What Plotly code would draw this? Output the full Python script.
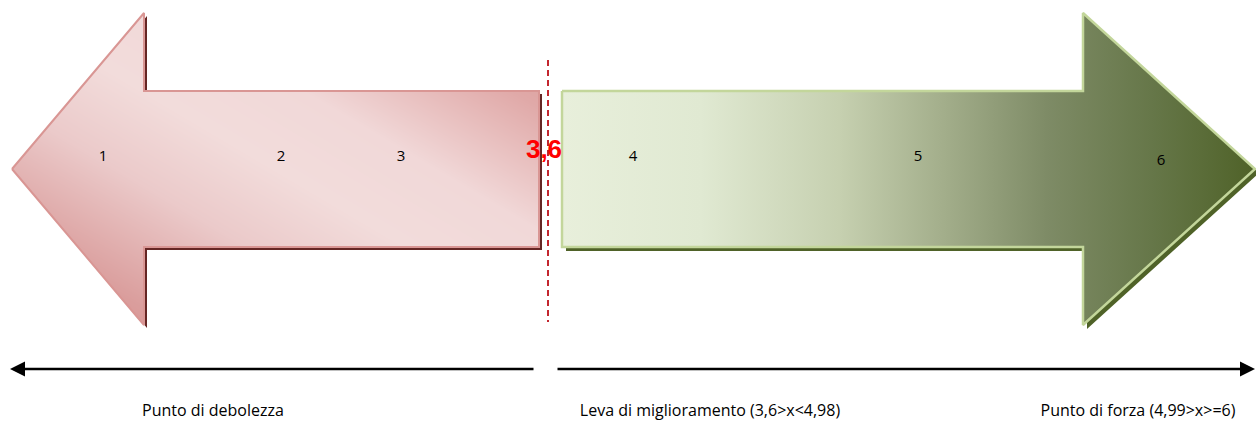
import numpy as np
import plotly.graph_objects as go

# ---- data -------------------------------------------------------------
scale_values = [1, 2, 3, 4, 5, 6]
threshold = 3.6
threshold_label = "3,6"
zone_labels = [
    "Punto di debolezza",
    "Leva di miglioramento (3,6>x<4,98)",
    "Punto di forza (4,99>x>=6)",
]

# ---- canvas layout (pixel units, y grows downward) --------------------
W, H = 1256, 426
value_x = [103, 281, 401, 633, 918, 1161]
value_y = [157, 157, 157, 157, 157, 161]
threshold_x = 548
threshold_label_pos = (544, 151)
zone_x = [213, 710, 1138]
zone_y = 412
axis_y = 369

# arrow geometry
CY = 169
SHAFT_TOP, SHAFT_BOT = 91, 247
HEAD_TOP, HEAD_BOT = 13, 325
RED_TIP, RED_BACK, RED_END = 12, 144, 539
GREEN_START, GREEN_BACK, GREEN_TIP = 562, 1083, 1255

red_poly = [(RED_TIP, CY), (RED_BACK, HEAD_TOP), (RED_BACK, SHAFT_TOP),
            (RED_END, SHAFT_TOP), (RED_END, SHAFT_BOT), (RED_BACK, SHAFT_BOT),
            (RED_BACK, HEAD_BOT), (RED_TIP, CY)]
green_poly = [(GREEN_START, SHAFT_TOP), (GREEN_BACK, SHAFT_TOP), (GREEN_BACK, HEAD_TOP),
              (GREEN_TIP, CY), (GREEN_BACK, HEAD_BOT), (GREEN_BACK, SHAFT_BOT),
              (GREEN_START, SHAFT_BOT), (GREEN_START, SHAFT_TOP)]


def path_of(poly, dx=0, dy=0):
    pts = [f"{x + dx},{y + dy}" for x, y in poly]
    return "M" + " L".join(pts) + " Z"


fig = go.Figure()

# red arrow body: 45-degree (box-normalised) dark-light-dark gradient,
# masked to the arrow outline
xs = np.arange(RED_TIP, RED_END + 1) + 0.5
ys = np.arange(HEAD_TOP, HEAD_BOT + 1) + 0.5
X, Y = np.meshgrid(xs, ys)
in_shaft = (X >= RED_BACK) & (X <= RED_END) & (Y >= SHAFT_TOP) & (Y <= SHAFT_BOT)
in_head = (X >= RED_TIP) & (X < RED_BACK) & (
    np.abs(Y - CY) <= (X - RED_TIP) / (RED_BACK - RED_TIP) * (CY - HEAD_TOP))
u = (X - RED_TIP) / (RED_END - RED_TIP)
v = (HEAD_BOT - Y) / (HEAD_BOT - HEAD_TOP)
t = (u + v) / 2
z = np.where(in_shaft | in_head, np.round(t, 3), np.nan).astype(np.float32)

fig.add_trace(go.Heatmap(
    x=xs, y=ys, z=z, zmin=0, zmax=1, showscale=False, hoverinfo="skip",
    colorscale=[[0, "#d48b8a"], [0.15, "#da9d9c"], [0.35, "#ebcaca"],
                [0.5, "#f2dcdb"], [0.65, "#f1d8d8"], [0.85, "#e0a9a8"],
                [1, "#d99694"]],
))

# red arrow outline
fig.add_trace(go.Scatter(
    x=[p[0] for p in red_poly], y=[p[1] for p in red_poly], mode="lines",
    line=dict(color="#d99694", width=2), hoverinfo="skip", showlegend=False,
))

# green arrow with horizontal gradient
fig.add_trace(go.Scatter(
    x=[p[0] for p in green_poly], y=[p[1] for p in green_poly], mode="lines",
    fill="toself",
    fillgradient=dict(type="horizontal", colorscale=[
        [0, "#e8efdb"], [0.2, "#e0e9d2"], [0.4, "#c6d0b0"], [0.55, "#a3ae8b"],
        [0.7, "#7e8b66"], [0.85, "#667749"], [1, "#4f6228"]]),
    line=dict(color="#c3d69b", width=2.5), hoverinfo="skip", showlegend=False,
))

# threshold marker
fig.add_trace(go.Scatter(
    x=[threshold_x, threshold_x], y=[60, 322], mode="lines",
    line=dict(color="#c3262e", width=2, dash="6px,4px"),
    hoverinfo="skip", showlegend=False,
))

# scale values
fig.add_trace(go.Scatter(
    x=value_x, y=value_y, mode="text", text=[str(v) for v in scale_values],
    textfont=dict(family="Open Sans", size=15, color="#000000"),
    hoverinfo="skip", showlegend=False,
))

fig.add_trace(go.Scatter(
    x=[threshold_label_pos[0]], y=[threshold_label_pos[1]], mode="text",
    text=[f"<b>{threshold_label}</b>"],
    textfont=dict(family="Liberation Sans", size=26, color="#ff0000"),
    hoverinfo="skip", showlegend=False,
))

# zone captions
fig.add_trace(go.Scatter(
    x=zone_x, y=[zone_y] * 3, mode="text", text=zone_labels,
    textfont=dict(family="Open Sans", size=16, color="#000000"),
    hoverinfo="skip", showlegend=False,
))

# drop shadows underneath the arrows
fig.add_shape(type="path", path=path_of(red_poly, 3, 3), fillcolor="#652624",
              line=dict(width=0), layer="below")
fig.add_shape(type="path", path=path_of(green_poly, 4, 4), fillcolor="#4f6228",
              line=dict(width=0), layer="below")

# bottom axis arrows
for tip_x, tail_x in [(10, 535), (1255, 556)]:
    fig.add_annotation(
        x=tip_x, y=axis_y, ax=tail_x, ay=axis_y, xref="x", yref="y",
        axref="x", ayref="y", showarrow=True, arrowhead=2, arrowsize=1.2,
        arrowwidth=2.5, arrowcolor="#000000", text="",
    )

fig.update_layout(
    width=W, height=H, margin=dict(l=0, r=0, t=0, b=0),
    paper_bgcolor="#ffffff", plot_bgcolor="#ffffff",
    xaxis=dict(range=[0, W], visible=False, fixedrange=True),
    yaxis=dict(range=[H, 0], visible=False, fixedrange=True),
    hovermode=False, showlegend=False,
)

fig.write_html("out.html")
